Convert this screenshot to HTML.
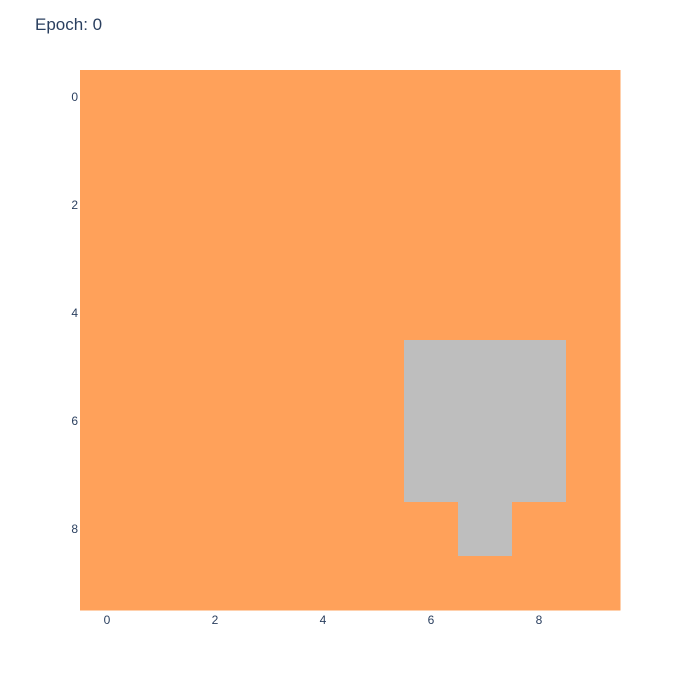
<!DOCTYPE html>
<html>
<head>
<meta charset="utf-8">
<style>
html,body{margin:0;padding:0;background:#fff;}
svg{display:block;font-family:"Liberation Sans",sans-serif;}
</style>
</head>
<body>
<svg id="chart" width="700" height="700" viewBox="0 0 700 700">
<text x="35" y="30" font-size="17" fill="#2a3f5f">Epoch: 0</text>
<g id="cells"></g>
<g id="xticks"></g>
<g id="yticks"></g>
</svg>
<script>
// grid values: 0 = orange (empty), 1 = grey (object)
const gridRows = [
  [0,0,0,0,0,0,0,0,0,0],
  [0,0,0,0,0,0,0,0,0,0],
  [0,0,0,0,0,0,0,0,0,0],
  [0,0,0,0,0,0,0,0,0,0],
  [0,0,0,0,0,0,0,0,0,0],
  [0,0,0,0,0,0,1,1,1,0],
  [0,0,0,0,0,0,1,1,1,0],
  [0,0,0,0,0,0,1,1,1,0],
  [0,0,0,0,0,0,0,1,0,0],
  [0,0,0,0,0,0,0,0,0,0]
];
const xTickValues = [0,2,4,6,8];
const yTickValues = [0,2,4,6,8];
const valueColors = ["#ffa15a","#bebebe"];

const NS = "http://www.w3.org/2000/svg";
const plotL = 80, plotT = 70, plotW = 540, plotH = 540;
const nCols = gridRows[0].length, nRows = gridRows.length;
const cw = plotW / nCols, ch = plotH / nRows;
const xPos = c => plotL + (c + 0.5) * cw;
const yPos = r => plotT + (r + 0.5) * ch;

const cells = document.getElementById('cells');
gridRows.forEach((row, r) => {
  row.forEach((v, c) => {
    const rect = document.createElementNS(NS, 'rect');
    rect.setAttribute('x', xPos(c) - cw / 2);
    rect.setAttribute('y', yPos(r) - ch / 2);
    rect.setAttribute('width', cw + 0.5);
    rect.setAttribute('height', ch + 0.5);
    rect.setAttribute('fill', valueColors[v]);
    
    
    cells.appendChild(rect);
  });
});

const xt = document.getElementById('xticks');
xTickValues.forEach(v => {
  const t = document.createElementNS(NS, 'text');
  t.setAttribute('x', xPos(v));
  t.setAttribute('y', plotT + plotH + 14);
  t.setAttribute('text-anchor', 'middle');
  t.setAttribute('font-size', '12');
  t.setAttribute('fill', '#2a3f5f');
  t.textContent = v;
  
  
  xt.appendChild(t);
});

const yt = document.getElementById('yticks');
yTickValues.forEach(v => {
  const t = document.createElementNS(NS, 'text');
  t.setAttribute('x', plotL - 2);
  t.setAttribute('y', yPos(v) + 4);
  t.setAttribute('text-anchor', 'end');
  t.setAttribute('font-size', '12');
  t.setAttribute('fill', '#2a3f5f');
  t.textContent = v;
  
  
  yt.appendChild(t);
});
</script>
</body>
</html>
